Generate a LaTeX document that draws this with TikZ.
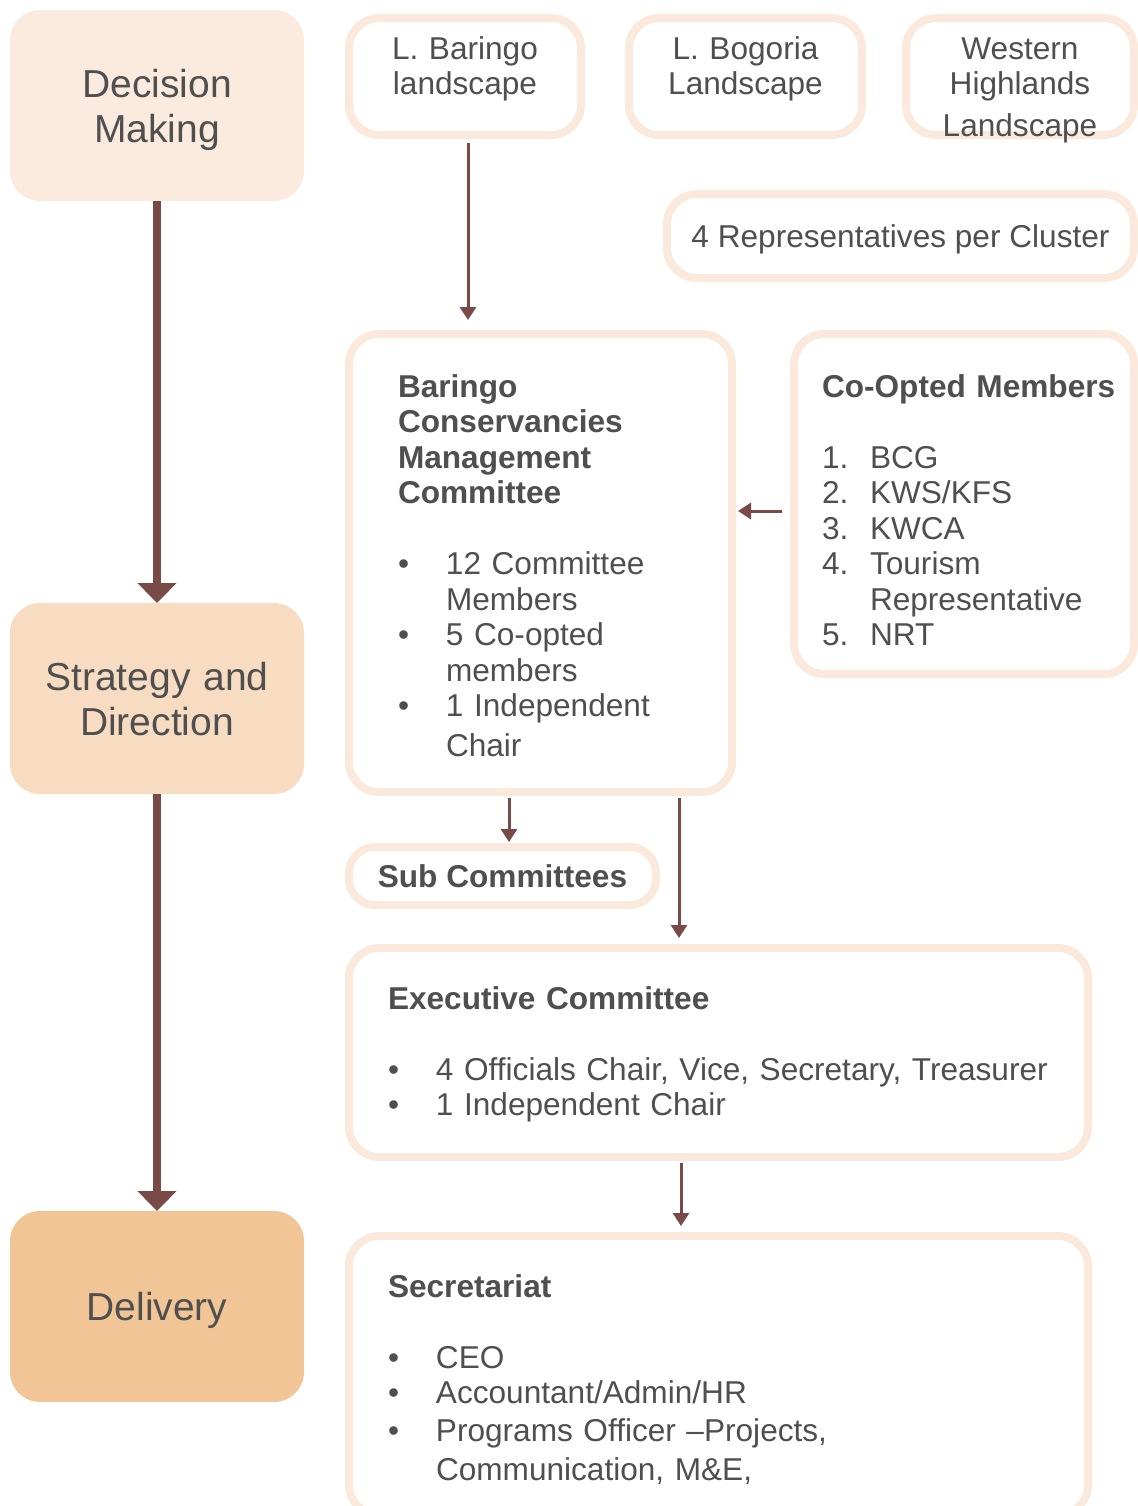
\documentclass[tikz,border=0pt]{standalone}
\usepackage{fontspec}
\setmainfont{Liberation Sans}
\usetikzlibrary{arrows.meta}
\definecolor{txtgray}{HTML}{4F4F4F}
\definecolor{edgepeach}{HTML}{FBEADB}
\definecolor{dmfill}{HTML}{FBEBDF}
\definecolor{sdfill}{HTML}{F8DCC2}
\definecolor{dlfill}{HTML}{F2C597}
\definecolor{arrowbrown}{HTML}{7A4A46}
\newcommand\bitem[1]{\mbox{\makebox[24pt][l]{\textbullet}#1}}
\newcommand\nitem[2]{\mbox{\makebox[24pt][l]{#1}#2}}
\newcommand\ncont[1]{\mbox{\hspace*{24pt}#1}}
\begin{document}
\begin{tikzpicture}[x=0.5pt,y=-0.5pt,
  every node/.style={inner sep=0pt, outer sep=0pt, text=txtgray},
  level/.style={rounded corners=15pt, text width=147pt, minimum height=95.5pt,
    align=center, text height=14pt, font=\fontsize{19.5}{22.5}\selectfont},
  card/.style={draw=edgepeach, line width=4pt, rounded corners=15pt, fill=white,
    anchor=north west, font=\fontsize{15.8}{17.75}\selectfont},
  bigarrow/.style={draw=arrowbrown, line width=4pt, -{Triangle[width=19pt,length=10pt]}},
  smallarrow/.style={draw=arrowbrown, line width=1.5pt, -{Triangle[width=8pt,length=6.5pt]}}]
\useasboundingbox (0,0) rectangle (1138,1506);
\node[level, fill=dmfill, text depth=22.5pt] (dm) at (157,105.5) {Decision\\Making};
\node[level, fill=sdfill, text depth=22.5pt] (sd) at (157,698.5) {Strategy and\\Direction};
\node[level, fill=dlfill, text depth=0pt] (dl) at (157,1306.5) {Delivery};
\node[card, align=center, text width=116pt, text height=20.5pt, text depth=38pt] (lb) at (349,18) {L. Baringo\\landscape};
\node[card, align=center, text width=116.5pt, text height=20.5pt, text depth=38pt] (lbo) at (629,18) {L. Bogoria\\Landscape};
\node[card, align=center, text width=114pt, text height=20.5pt, text depth=38pt] (wh) at (906,18) {Western\\Highlands\\[3pt]Landscape};
\node[card, anchor=center, minimum width=233.5pt, minimum height=42pt, text height=11.5pt, text depth=0pt] (rep) at (900.5,236) {4 Representatives per Cluster};
\node[card, align=left, inner xsep=24.5pt, text width=142.5pt, text height=31.5pt, text depth=197.5pt] (bc) at (349,334)
  {\textbf{Baringo}\\\textbf{Conservancies}\\\textbf{Management}\\\textbf{Committee}\\[17.75pt]
   \bitem{12 Committee}\\\ncont{Members}\\\bitem{5 Co-opted}\\\ncont{members}\\\bitem{1 Independent}\\[2pt]\ncont{Chair}};
\node[card, align=left, inner xsep=14pt, text width=142pt, text height=31.5pt, text depth=138.5pt] (co) at (794,334)
  {\mbox{\textbf{Co-Opted Members}}\\[17.75pt]
   \nitem{1.}{BCG}\\\nitem{2.}{KWS/KFS}\\\nitem{3.}{KWCA}\\\nitem{4.}{Tourism}\\\ncont{Representative}\\\nitem{5.}{NRT}};
\node[card, anchor=center, rounded corners=13pt, minimum width=153.5pt, minimum height=29pt,
  font=\fontsize{15.8}{17.75}\selectfont\bfseries] (sub) at (502.5,876) {Sub Committees};
\node[card, align=left, inner xsep=19.5pt, text width=330.5pt, text height=30.5pt, text depth=74pt] (exec) at (349,948)
  {\textbf{Executive Committee}\\[17.75pt]
   \bitem{4 Officials Chair, Vice, Secretary, Treasurer}\\\bitem{1 Independent Chair}};
\node[card, align=left, inner xsep=19.5pt, text width=330.5pt, text height=30.5pt, text depth=109pt] (sec) at (349,1236)
  {\textbf{Secretariat}\\[17.75pt]
   \bitem{CEO}\\\bitem{Accountant/Admin/HR}\\[1pt]\bitem{Programs Officer –Projects,}\\[2pt]\ncont{Communication, M\&E,}};
\draw[bigarrow] (dm) -- (sd);
\draw[bigarrow] (sd) -- (dl);
\draw[smallarrow, shorten <=4pt, shorten >=7pt] ([xshift=1.5pt]lb.south) -- ([xshift=1.5pt]lb.south |- bc.north);
\draw[smallarrow, shorten <=6pt, shorten >=3pt] ([yshift=-3.5pt]co.west) -- ([yshift=-3.5pt]co.west -| bc.east);
\draw[smallarrow, shorten <=3pt, shorten >=2.5pt] ([xshift=3.25pt]sub.north |- bc.south) -- ([xshift=3.25pt]sub.north);
\draw[smallarrow, shorten <=3pt, shorten >=5pt] ([xshift=-19.75pt]exec.north |- bc.south) -- ([xshift=-19.75pt]exec.north);
\draw[smallarrow, shorten <=3pt, shorten >=5pt] ([xshift=-18.75pt]exec.south) -- ([xshift=-18.75pt]exec.south |- sec.north);
\end{tikzpicture}
\end{document}
